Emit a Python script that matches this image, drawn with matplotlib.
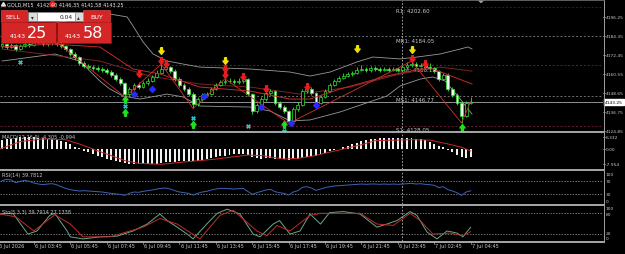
import numpy as np
import matplotlib
matplotlib.use("Agg")
import matplotlib.pyplot as plt
from matplotlib.patches import Rectangle
from matplotlib.transforms import blended_transform_factory as blend

# ---------------- data ----------------
first_open = 4178.0
close = [4179.3, 4177.5, 4178.7, 4176.2, 4178.1, 4179.3, 4178.7, 4180.0, 4180.6, 4179.3,
         4180.0, 4179.8, 4179.3, 4178.1, 4176.2, 4173.1, 4171.2, 4167.5, 4165.6, 4164.9,
         4164.3, 4163.7, 4163.1, 4161.8, 4159.9, 4157.4, 4154.9, 4148.0, 4151.2, 4153.7,
         4152.4, 4154.9, 4156.2, 4158.7, 4161.2, 4163.7, 4164.9, 4162.4, 4157.4, 4153.7,
         4151.2, 4148.0, 4141.8, 4144.9, 4147.4, 4148.0, 4151.2, 4153.7, 4155.6, 4156.2,
         4156.0, 4155.6, 4156.2, 4157.4, 4148.0, 4137.4, 4141.2, 4144.9, 4148.7, 4149.9,
         4142.4, 4139.9, 4137.4, 4131.2, 4138.7, 4141.2, 4149.9, 4151.2, 4148.7, 4142.4,
         4146.2, 4149.9, 4153.7, 4156.2, 4158.1, 4159.3, 4160.6, 4161.2, 4163.1, 4163.7,
         4163.1, 4164.3, 4163.7, 4163.1, 4163.7, 4163.1, 4163.7, 4163.1, 4164.9, 4166.2,
         4166.8, 4165.6, 4166.2, 4164.9, 4164.3, 4162.4, 4157.4, 4159.9, 4151.2, 4147.4,
         4142.4, 4134.3, 4142.4, 4143.25]
high = [4180.8, 4180.2, 4179.9, 4179.5, 4179.4, 4181.0, 4180.6, 4181.8, 4182.4, 4181.7,
        4181.5, 4181.3, 4180.9, 4180.5, 4179.0, 4177.0, 4174.4, 4172.0, 4168.6, 4166.9,
        4166.1, 4165.5, 4164.8, 4164.2, 4162.9, 4161.0, 4158.6, 4155.8, 4152.4, 4155.0,
        4155.3, 4156.0, 4157.8, 4160.0, 4163.0, 4166.8, 4166.8, 4165.8, 4163.5, 4158.6,
        4155.0, 4152.5, 4149.2, 4146.0, 4148.6, 4149.5, 4152.6, 4155.0, 4157.0, 4157.6,
        4157.8, 4157.3, 4157.9, 4159.1, 4158.2, 4148.8, 4142.6, 4146.3, 4150.2, 4151.4,
        4150.8, 4143.8, 4141.2, 4138.3, 4140.0, 4142.8, 4151.4, 4152.9, 4152.3, 4149.6,
        4147.4, 4151.3, 4155.0, 4157.6, 4159.6, 4160.9, 4162.0, 4162.7, 4164.7, 4166.4,
        4165.0, 4165.6, 4165.4, 4164.9, 4165.2, 4164.8, 4165.0, 4164.6, 4166.3, 4167.8,
        4168.6, 4167.9, 4167.5, 4167.3, 4167.4, 4165.2, 4163.0, 4161.0, 4161.5, 4152.4,
        4148.5, 4143.4, 4143.6, 4146.35]
low = [4176.9, 4176.4, 4176.8, 4175.1, 4175.6, 4177.5, 4177.6, 4178.0, 4179.1, 4178.2,
       4178.4, 4178.6, 4177.9, 4176.8, 4175.0, 4172.0, 4169.5, 4166.0, 4164.4, 4163.8,
       4163.0, 4162.6, 4161.9, 4160.5, 4158.6, 4156.0, 4153.4, 4146.2, 4147.0, 4150.4,
       4151.0, 4151.5, 4153.8, 4155.5, 4158.0, 4160.4, 4162.9, 4161.0, 4156.5, 4152.5,
       4150.0, 4146.6, 4139.0, 4140.5, 4143.9, 4146.2, 4147.3, 4150.4, 4152.8, 4154.6,
       4154.8, 4154.3, 4154.5, 4155.2, 4146.8, 4135.6, 4136.1, 4140.0, 4143.8, 4147.6,
       4141.3, 4138.6, 4136.0, 4129.6, 4130.4, 4137.6, 4140.3, 4148.6, 4147.5, 4141.3,
       4141.5, 4145.4, 4149.0, 4152.9, 4155.3, 4157.2, 4158.4, 4159.6, 4160.3, 4162.2,
       4161.8, 4162.0, 4162.5, 4161.9, 4162.2, 4161.8, 4162.4, 4161.9, 4162.4, 4163.9,
       4165.2, 4164.6, 4164.7, 4163.8, 4163.0, 4161.0, 4156.3, 4156.8, 4150.2, 4146.1,
       4141.0, 4129.9, 4133.6, 4141.58]

# bollinger bands / moving averages / zigzag  (bar index, price)
bb_up_x = [0, 10.5, 19.3, 23.7, 27.5, 28.8, 31, 33.2, 36.3, 39.8, 43.5, 54.5, 63.3, 67.7, 72.1, 78, 81.5, 87.5, 91.2, 96.3, 100.7, 102.4, 103.3]
bb_up_y = [4190.0, 4191.9, 4196.3, 4198.1, 4196.3, 4190.6, 4180.6, 4173.1, 4168.7, 4166.8, 4164.9, 4163.7, 4161.8, 4159.3, 4161.8, 4168.1, 4171.2, 4170.0, 4171.2, 4173.1, 4176.2, 4177.5, 4176.2]
bb_lo_x = [0, 11.6, 17.1, 21.5, 23.7, 26.6, 30.3, 36.3, 39.8, 43.5, 54.5, 58.9, 63.3, 67.7, 74.3, 84.6, 87.5, 91.9, 94.7, 97.4, 100.7, 103.3]
bb_lo_y = [4168.7, 4173.1, 4168.7, 4156.2, 4151.2, 4146.8, 4144.9, 4148.0, 4146.2, 4140.5, 4139.9, 4137.4, 4131.2, 4131.8, 4136.8, 4146.8, 4153.1, 4157.4, 4158.7, 4156.2, 4144.9, 4135.5]
ma1_x = [0, 11, 21.5, 28.8, 34.7, 43.5, 54.5, 63.3, 67.7, 74.3, 84.6, 91.9, 94.7, 103.3]
ma1_y = [4177.5, 4179.3, 4177.5, 4163.7, 4160.6, 4152.4, 4149.9, 4144.9, 4144.9, 4151.2, 4159.3, 4163.7, 4163.7, 4154.3]
ma2_x = [0, 21.5, 32.5, 43.5, 54.5, 65.5, 76.5, 87.5, 96.3, 103.3]
ma2_y = [4176.2, 4168.7, 4159.3, 4154.3, 4152.4, 4148.0, 4152.4, 4160.6, 4164.9, 4162.4]
zz_x = [12, 27, 35, 42, 49, 63, 90, 101, 103]
zz_y = [4180.6, 4146.2, 4166.8, 4139.0, 4157.6, 4129.6, 4168.6, 4129.9, 4143.3]

# signal arrows (bar index, price)
yel_x, yel_y = [35, 49, 78, 90], [4175.0, 4168.7, 4176.2, 4175.6]
red_x = [30, 35, 36, 49, 49, 53, 58, 67, 90, 93]
red_y = [4160.6, 4168.7, 4166.8, 4163.7, 4159.9, 4158.7, 4151.2, 4152.4, 4169.9, 4166.8]
grn_x, grn_y = [27, 27, 42, 62, 101], [4144.9, 4136.8, 4129.3, 4129.3, 4127.4]
cyan_x, cyan_y = [4, 27, 42, 54, 62], [4168.1, 4140.5, 4133.0, 4128.0, 4125.2]
blue_x = [29, 33, 44.5, 57, 63.5, 69]
blue_y = [4148.0, 4151.2, 4146.8, 4139.9, 4129.9, 4141.2]

# pivot levels
piv_names = ['R1: 4202.60', 'MR1: 4184.05', 'Pivot: 4166.13', 'MS1: 4146.77', 'S1: 4128.05']
piv_vals = [4202.60, 4184.05, 4166.13, 4146.77, 4128.05]
piv_cols = ['#20205a', '#707070', '#6a1a2a', '#707070', '#6a1a2a']

price_ticks = [4196.25, 4184.35, 4172.45, 4160.55, 4148.65, 4136.75, 4124.85]
bid = 4143.25

# MACD histogram per bar, signal line (sparse)
macd_hist = [4.6, 5.0, 5.4, 5.8, 6.0, 6.2, 6.3, 6.1, 5.8, 5.5, 5.2, 5.0, 4.7, 4.3,
             3.5, 2.5, 1.2, 0.4, -1.0, -1.8, -2.6, -3.4, -4.2, -5.0, -5.7, -6.3, -6.9, -7.4,
             -7.8, -7.95, -7.9, -7.9, -7.8, -7.7, -7.5, -7.2, -6.9, -6.7, -6.5, -6.3, -6.2,
             -6.2, -6.4, -6.2, -5.8, -5.3, -4.8, -4.3, -3.8, -3.4, -3.1, -2.8, -2.6, -2.5,
             -3.2, -4.3, -4.8, -4.9, -4.8, -4.7, -5.0, -5.2, -5.3, -5.6, -5.2, -4.9, -4.5,
             -4.0, -3.5, -3.4, -2.8, -2.0, -1.2, -0.5, 0.2, 0.8, 1.6, 2.4, 3.3, 4.0, 4.6,
             5.1, 5.4, 5.6, 5.8, 5.9, 5.9, 5.9, 5.8, 5.8, 5.7, 5.4, 5.0, 4.4, 3.6, 2.6, 1.8,
             1.0, -0.4, -1.8, -2.9, -4.0, -4.5, -4.3]
sig_x = [-0.5, 4, 9, 14, 17, 21, 24, 27, 30, 35, 40, 47, 54, 57, 62, 65, 68, 75, 79, 82, 90, 94, 98, 101, 103]
sig_y = [0.0, 3.8, 5.2, 4.8, 2.6, -0.9, -3.4, -6.0, -7.4, -7.9, -6.7, -5.2, -3.1, -3.4, -5.2, -4.8, -3.8, 0.0, 2.2, 4.3, 4.8, 4.6, 2.6, 0.9, -1.0]

# RSI(14) per bar
rsi = [70, 74, 72, 64, 68, 71, 68, 63, 60, 58, 60, 61, 58, 52, 47, 43, 41, 39, 40, 39,
       38, 37, 36, 34, 32, 30, 29, 26, 32, 36, 35, 38, 40, 42, 45, 47, 48, 45, 40, 36,
       34, 32, 27, 32, 36, 38, 42, 45, 47, 47, 46, 45, 46, 47, 38, 29, 34, 38, 42, 44,
       37, 34, 32, 27, 36, 40, 50, 52, 48, 41, 45, 49, 52, 54, 55, 56, 57, 58, 59, 60,
       59, 60, 60, 59, 60, 59, 60, 59, 60, 61, 62, 60, 61, 59, 58, 56, 49, 52, 43, 39,
       34, 26, 36, 39.78]

# Stochastic(5,3,3) main and signal (sparse)
stk_x = [-0.5, 2.4, 4.6, 5.7, 7.7, 10.5, 11.6, 14.3, 15, 17.8, 21.5, 25.3, 28.8, 31.9, 34.7, 36.3,
         38.5, 40.7, 42, 45, 47.3, 49.5, 52.3, 55.2, 56.7, 59.6, 61, 63.3, 65.5, 67.7, 70, 72,
         75, 78.7, 82.4, 84.6, 86.8, 89.7, 91.2, 93.4, 95.6, 97.8, 100, 101.3, 103]
stk_y = [78, 80, 40, 20, 29, 74, 80, 29, 12, 6, 12, 14, 29, 49, 78, 59,
         40, 20, 6, 49, 80, 92, 78, 20, 12, 49, 59, 20, 29, 78, 49, 82,
         85, 78, 40, 49, 59, 85, 74, 26, 6, 29, 23, 12, 39.8]
std_x = [-0.5, 3, 7, 11.6, 15, 17.8, 23.7, 31, 34.7, 38.5, 43.5, 47.9, 50.8, 56, 58.2, 60.4,
         63.3, 67.7, 70, 71.4, 78.7, 82.4, 86, 89.7, 91.9, 94.7, 98.5, 101.3, 103]
std_y = [78, 70, 29, 76, 49, 12, 12, 40, 65, 49, 6, 74, 89, 29, 15, 45,
         29, 74, 80, 80, 80, 49, 45, 80, 59, 20, 23, 15, 27.1]

time_bars = [-1, 7, 15, 23, 31, 39, 47, 55, 63, 71, 79, 87, 95, 103]
time_labels = ['6 Jul 2026', '6 Jul 03:45', '6 Jul 05:45', '6 Jul 07:45', '6 Jul 09:45',
               '6 Jul 11:45', '6 Jul 13:45', '6 Jul 15:45', '6 Jul 17:45', '6 Jul 19:45',
               '6 Jul 21:45', '6 Jul 23:45', '7 Jul 02:45', '7 Jul 04:45']
day_sep = 88

# ---------------- figure ----------------
W, H = 625, 255
fig = plt.figure(figsize=(W / 100, H / 100), dpi=100, facecolor='black')
TXT = '#c8c8c8'
FS = 3.6
FR = 3.15   # right-hand scale labels are squeezed into ~20 px
XL = (-2 / 4.55, 601 / 4.55)


def pax(y0, y1):
    # axes from a pixel box, top-left origin
    a = fig.add_axes([0, 1 - y1 / H, 603 / W, (y1 - y0) / H])
    a.set_facecolor('black')
    a.set_xlim(*XL)
    a.set_xticks([])
    a.set_yticks([])
    for s in a.spines.values():
        s.set_visible(False)
    return a


def rlabel(a, v, s, tick=True):
    a.text(1.004, v, s, transform=blend(a.transAxes, a.transData), color=TXT,
           fontsize=FR, va='center', ha='left', clip_on=False)
    if tick:
        a.plot([1.0, 1.003], [v, v], transform=blend(a.transAxes, a.transData),
               color='#a0a0a0', lw=0.5, clip_on=False)


# ---- main price panel
ax = pax(1, 132)
ax.set_ylim(4124.89, 4206.9)
idx = np.arange(len(close))
c = np.array(close)
o = np.r_[first_open, c[:-1]]
hi, lo = np.array(high), np.array(low)

for nm, v, col in zip(piv_names, piv_vals, piv_cols):
    ax.axhline(v, color=col, lw=0.7, ls=(0, (2, 2)), zorder=1)
    ax.text(86.7, v - 0.9, nm, color=TXT, fontsize=FS + 0.4, va='top', ha='left', zorder=2)
ax.axhline(bid, color='#a8a8a8', lw=0.6, zorder=1)
ax.axvline(day_sep, color='#c0c0c0', lw=0.6, ls=(0, (2, 2)), zorder=1)

ax.plot(bb_up_x, bb_up_y, color='#9a9a9a', lw=0.6, zorder=2)
ax.plot(bb_lo_x, bb_lo_y, color='#9a9a9a', lw=0.6, zorder=2)
ax.plot(ma2_x, ma2_y, color='#7a2424', lw=0.7, zorder=2)

up = c >= o
ax.vlines(idx, lo, hi, color='#2ee82e', lw=0.6, zorder=3)
ax.bar(idx, np.maximum(np.abs(c - o), 0.25), bottom=np.minimum(o, c), width=0.62,
       color=np.where(up, 'black', '#f2fff2'), edgecolor='#2ee82e', lw=0.5, zorder=3)

ax.plot(ma1_x, ma1_y, color='#c42a2a', lw=0.7, zorder=4)
ax.plot(zz_x, zz_y, color='#d03030', lw=0.6, zorder=4)

dn = [(-0.2, 0.8), (0.2, 0.8), (0.2, 0.1), (0.55, 0.1), (0, -0.6), (-0.55, 0.1), (-0.2, 0.1), (-0.2, 0.8)]
upm = [(x, -y) for x, y in dn]
ax.plot(yel_x, yel_y, ls='none', marker=dn, ms=5.5, color='#f0e000', zorder=5)
ax.plot(red_x, red_y, ls='none', marker=dn, ms=5.5, color='#e81c1c', zorder=5)
ax.plot(grn_x, grn_y, ls='none', marker=upm, ms=5.5, color='#20e020', zorder=5)
ax.plot(blue_x, blue_y, ls='none', marker='D', ms=3, color='#2a2aff', zorder=5)
ax.plot(cyan_x, cyan_y, ls='none', marker='X', ms=3, color='#30c8c8', mew=0.3, zorder=5)

for v in price_ticks:
    rlabel(ax, v, f'{v:.2f}')
ax.text(1.003, bid, f'{bid:.2f}', transform=blend(ax.transAxes, ax.transData), color='black',
        fontsize=FR, va='center', ha='left', clip_on=False, zorder=6,
        bbox=dict(boxstyle='square,pad=0.2', fc='white', ec='white'))

# ---- MACD
am = pax(134, 169.5)
am.set_ylim(-10.05, 8.25)
am.bar(idx, macd_hist, width=0.42, color='#f0f0f0', zorder=2)
am.plot(sig_x, sig_y, color='#c42a2a', lw=0.7, zorder=3)
am.axvline(day_sep, color='#c0c0c0', lw=0.6, ls=(0, (2, 2)))
am.text(0.004, 0.9, 'MACD(12,26,9) -4.305 -0.994', transform=am.transAxes, color=TXT,
        fontsize=FS, va='center', ha='left')
for v, s in zip([6.332, 0.0, -7.954], ['6.332', '0.00', '-7.954']):
    rlabel(am, v, s)

# ---- RSI
ar = pax(171.7, 205)
ar.set_ylim(0, 100)
for lv in (70, 30):
    ar.axhline(lv, color='#a0a0a0', lw=0.5, ls=(0, (2, 2)))
ar.axvline(day_sep, color='#c0c0c0', lw=0.6, ls=(0, (2, 2)))
ar.plot(idx, rsi, color='#3e62b8', lw=0.7)
ar.text(0.004, 0.88, 'RSI(14) 39.7812', transform=ar.transAxes, color=TXT,
        fontsize=FS, va='center', ha='left')
for v, s in zip([90, 70, 30, 8], ['100', '70', '30', '0']):
    rlabel(ar, v, s, tick=False)

# ---- Stochastic
ast = pax(207.4, 242)
ast.set_ylim(0, 100)
for lv in (80, 20):
    ast.axhline(lv, color='#a0a0a0', lw=0.5, ls=(0, (2, 2)))
ast.axvline(day_sep, color='#c0c0c0', lw=0.6, ls=(0, (2, 2)))
ast.plot(stk_x, stk_y, color='#6aa88a', lw=0.7)
ast.plot(std_x, std_y, color='#c42a2a', lw=0.7)
ast.text(0.004, 0.86, 'Sto(5,3,3) 39.7914 27.1338', transform=ast.transAxes, color=TXT,
         fontsize=FS, va='center', ha='left')
for v, s in zip([94, 77, 22, 10], ['100', '80', '20', '0']):
    rlabel(ast, v, s, tick=False)

for b, s in zip(time_bars, time_labels):
    ast.text(b + 0.25, -0.07, s, transform=blend(ast.transData, ast.transAxes), color=TXT,
             fontsize=FS, va='top', ha='left', clip_on=False)
    ast.plot([b, b], [-0.08, 0], transform=blend(ast.transData, ast.transAxes),
             color='#a0a0a0', lw=0.5, clip_on=False)

# ---- overlay in pixel space: separators, title, one-click trade panel
ov = fig.add_axes([0, 0, 1, 1], zorder=10)
ov.set_xlim(0, W)
ov.set_ylim(H, 0)
ov.axis('off')
ov.patch.set_alpha(0)
for y in (133, 170.6, 206.3, 242.8):
    ov.plot([0, 603.5], [y, y], color='#b4b4b4', lw=1.3)
ov.plot([603.5, 603.5], [0, 243], color='#a0a0a0', lw=0.7)
ov.plot([0, 603.5], [0.6, 0.6], color='#707070', lw=0.6)
ov.fill([478, 484, 481], [0.5, 0.5, 3.5], color='#a0a0a0')

ov.fill([1.5, 5.5, 3.5], [7, 7, 3.5], color='#e0e0e0')
ov.text(7, 5.2, 'GOLD,M15  4142.40 4146.35 4141.58 4143.25', color='#e8e8e8',
        fontsize=FS, va='center', ha='left')
ov.add_patch(plt.Circle((52.5, 5.2), 2.6, color='#e02020'))

red = '#d42626'
ov.add_patch(Rectangle((0.5, 11), 26.5, 12, fc=red, ec='#f05050', lw=0.4))
ov.add_patch(Rectangle((83, 11), 27, 12, fc=red, ec='#f05050', lw=0.4))
ov.add_patch(Rectangle((28, 12.5), 9, 9.5, fc='#dcdcdc', ec='#909090', lw=0.4))
ov.add_patch(Rectangle((37, 12.5), 38, 9.5, fc='white', ec='#909090', lw=0.4))
ov.add_patch(Rectangle((75, 12.5), 7.5, 9.5, fc='#dcdcdc', ec='#909090', lw=0.4))
ov.add_patch(Rectangle((0.5, 23), 55, 20.5, fc=red, ec='#b01010', lw=0.4))
ov.add_patch(Rectangle((56.5, 23), 54, 20.5, fc=red, ec='#b01010', lw=0.4))
ov.text(13.5, 17.2, 'SELL', color='white', fontsize=4.6, ha='center', va='center')
ov.text(96.5, 17.2, 'BUY', color='white', fontsize=4.6, ha='center', va='center')
ov.text(32.5, 17.2, '\u25be', color='#303030', fontsize=4, ha='center', va='center')
ov.text(78.7, 17.2, '\u25b4', color='#303030', fontsize=4, ha='center', va='center')
ov.text(73, 17.2, '0.04', color='#202020', fontsize=4.2, ha='right', va='center')
ov.text(10, 36.5, '4143', color='white', fontsize=4.6, ha='left', va='center')
ov.text(27, 33.5, '25', color='white', fontsize=11.5, ha='left', va='center')
ov.text(65, 36.5, '4143', color='white', fontsize=4.6, ha='left', va='center')
ov.text(83, 33.5, '58', color='white', fontsize=11.5, ha='left', va='center')

fig.savefig('out.png', dpi=100, facecolor='black')
